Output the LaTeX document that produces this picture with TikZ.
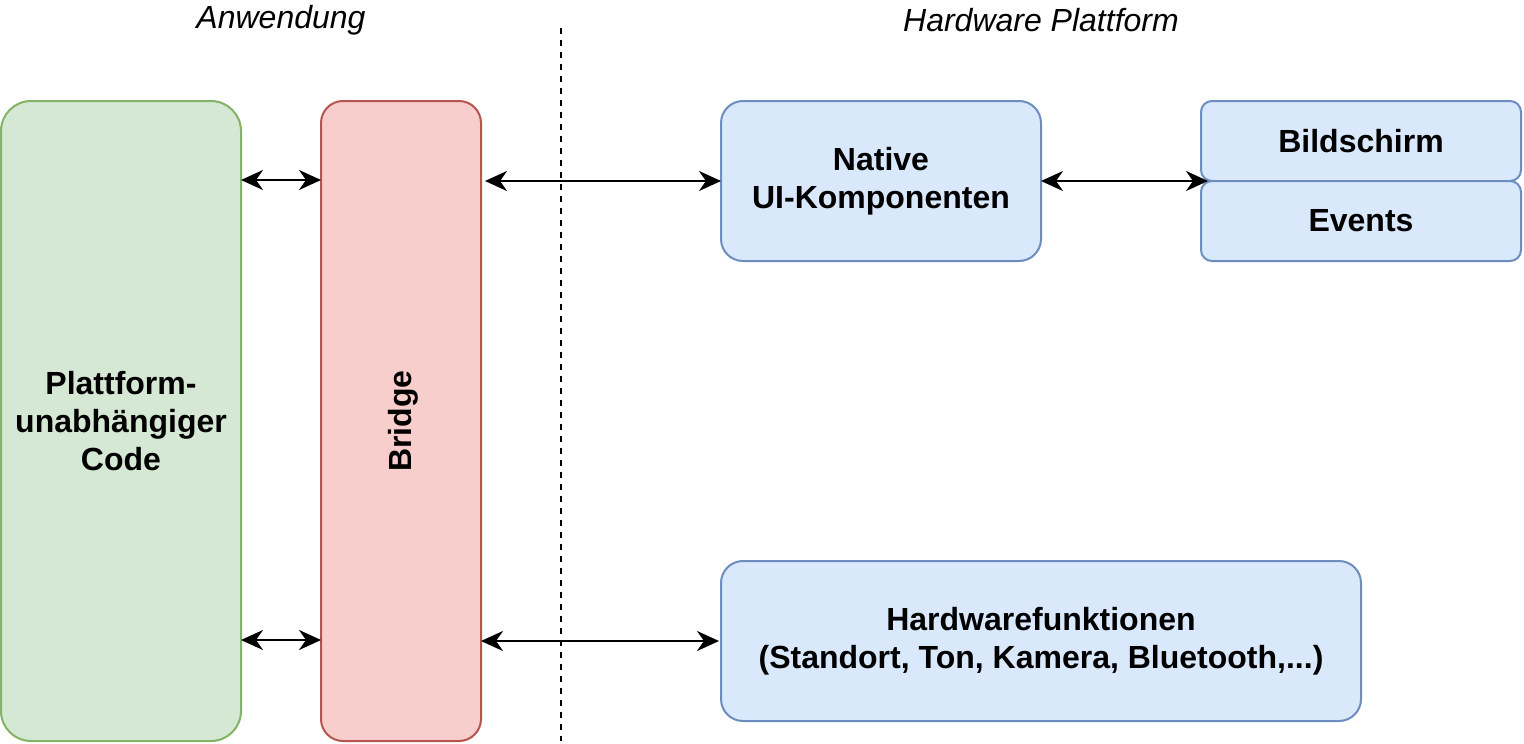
\documentclass[tikz,border=0pt]{standalone}
\usepackage{fontspec}
\setmainfont{Liberation Sans}
\usetikzlibrary{arrows.meta,calc}
\definecolor{gfill}{HTML}{D5E8D4}\definecolor{gdraw}{HTML}{82B366}
\definecolor{rfill}{HTML}{F8CECC}\definecolor{rdraw}{HTML}{B85450}
\definecolor{bfill}{HTML}{DAE8FC}\definecolor{bdraw}{HTML}{6C8EBF}
\begin{document}
\begin{tikzpicture}[x=1pt,y=-1pt,
  box/.style={draw, line width=2pt, inner sep=0pt, outer sep=0pt, font=\fontsize{32}{38}\selectfont\bfseries, align=center},
  gbox/.style={box, fill=gfill, draw=gdraw},
  rbox/.style={box, fill=rfill, draw=rdraw},
  bbox/.style={box, fill=bfill, draw=bdraw},
  conn/.style={line width=2.6pt, >={Stealth[length=22pt,width=20pt,inset=7pt]}, <->},
  lbl/.style={font=\fontsize{32}{38}\selectfont\itshape}]
\useasboundingbox (0,0) rectangle (1524,744);
\node[gbox, rounded corners=30pt, minimum width=240pt, minimum height=640pt] (green) at (121,421) {Plattform-\\unabhängiger\\Code};
\node[rbox, rounded corners=22pt, minimum width=160pt, minimum height=640pt] (bridge) at (401,421) {};
\node[font=\fontsize{32}{38}\selectfont\bfseries, rotate=90] (bridgelbl) at ($(bridge.center)+(2,0)$) {Bridge};
\node[bbox, rounded corners=22pt, minimum width=320pt, minimum height=160pt] (native) at (881,181) {Native\\UI-Komponenten};
\node[bbox, rounded corners=11pt, minimum width=320pt, minimum height=80pt] (bild) at (1361,141) {Bildschirm};
\node[bbox, rounded corners=11pt, minimum width=320pt, minimum height=80pt] (events) at (1361,221) {Events};
\node[bbox, rounded corners=22pt, minimum width=640pt, minimum height=160pt] (hw) at (1041,641) {Hardwarefunktionen\\(Standort, Ton, Kamera, Bluetooth,...)};
\node[lbl] (anw) at (281,20) {Anwendung};
\node[lbl] (hwp) at (1041,20) {Hardware Plattform};
\coordinate (dtop) at (561,28);
\coordinate (dbot) at (561,741);
\draw[line width=2pt, dash pattern=on 6pt off 6pt] (dtop) -- (dbot);
\draw[conn] (green.east |- 0,180) -- (bridge.west |- 0,180);
\draw[conn] ($(bridge.east |- native.west)+(4,0)$) -- (native.west);
\draw[conn] (native.east) -- ($(native.east -| bild.west)+(7,0)$);
\draw[conn] (green.east |- 0,640) -- (bridge.west |- 0,640);
\draw[conn] (bridge.east |- hw.west) -- ($(hw.west)+(-2,0)$);
\end{tikzpicture}
\end{document}
